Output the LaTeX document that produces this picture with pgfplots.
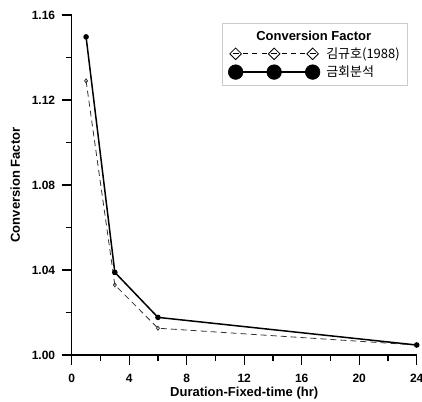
\documentclass[border=0pt]{standalone}
\usepackage{fontspec}
\setmainfont{Liberation Sans}
\newfontfamily\kr{Noto Sans CJK KR}
\usepackage{pgfplots}
\pgfplotsset{compat=1.18}
\begin{document}
\begin{tikzpicture}
\useasboundingbox (-71.7pt,-46pt) rectangle (350.3pt,355pt);
\begin{axis}[
  at={(0pt,0pt)}, anchor=south west,
  scale only axis, width=345pt, height=340pt,
  xmin=0, xmax=24, ymin=1.00, ymax=1.16,
  axis lines*=left,
  axis line style={line width=1.6pt},
  xtick={0,4,8,12,16,20,24},
  ytick={1.00,1.04,1.08,1.12,1.16},
  minor x tick num=1, minor y tick num=1,
  tick align=outside,
  major tick length=10pt, minor tick length=6pt,
  every tick/.style={line width=1.4pt, black},
  /pgf/number format/assume math mode=true,
  yticklabel style={/pgf/number format/.cd, fixed, fixed zerofill, precision=2},
  ticklabel style={font=\fontsize{12}{14}\selectfont\bfseries},
  xticklabel shift=6pt, yticklabel shift=3pt,
  xlabel={Duration-Fixed-time (hr)},
  ylabel={Conversion Factor},
  xlabel shift=-3pt, ylabel shift=5pt,
  label style={font=\fontsize{13}{15}\selectfont\bfseries},
  clip=false,
  legend style={at={(0.975,0.975)}, anchor=north east, draw=black!20,
    line width=0.6pt, font=\fontsize{13}{15}\selectfont,
    row sep=2pt, column sep=4pt, inner xsep=6pt, inner ysep=5pt},
  legend cell align=left,
]
% Kim (1988)
\addplot[black!80, line width=0.8pt, dash pattern=on 6pt off 4pt,
  mark=diamond, mark size=2pt, mark options={solid}, forget plot]
  coordinates {(1,1.129) (3,1.033) (6,1.0126) (24,1.0047)};
% this analysis
\addplot[black, line width=1.5pt, mark=*, mark size=2pt, forget plot]
  coordinates {(1,1.1497) (3,1.0389) (6,1.0177) (24,1.0047)};

\addlegendimage{empty legend}
\addlegendentry{\hspace*{-70pt}\bfseries Conversion Factor}
\addlegendimage{legend image code/.code={
  \foreach \s in {0,38.5} {
    \draw[black, line width=0.8pt] (\s pt+7.5pt,0pt) -- (\s pt+12.5pt,0pt);
    \draw[black, line width=0.8pt] (\s pt+16.75pt,0pt) -- (\s pt+21.75pt,0pt);
    \draw[black, line width=0.8pt] (\s pt+26pt,0pt) -- (\s pt+31pt,0pt);
  }
  \foreach \x in {0,38.5,77} {
    \draw[line width=0.8pt, fill=white] (\x pt,5.8pt) -- (\x pt+5.8pt,0pt) -- (\x pt,-5.8pt) -- (\x pt-5.8pt,0pt) -- cycle;
    \draw[line width=0.7pt] (\x pt-3pt,0pt) -- (\x pt+3pt,0pt);
  }
}}
\addlegendentry{\kr 김규호(1988)}
\addlegendimage{legend image code/.code={
  \draw[black, line width=1.5pt] (0pt,0pt) -- (77pt,0pt);
  \foreach \x in {0,38.5,77}
    \fill[black] (\x pt,0pt) circle (7.3pt);
}}
\addlegendentry{\kr 금회분석}
\end{axis}
\end{tikzpicture}
\end{document}
